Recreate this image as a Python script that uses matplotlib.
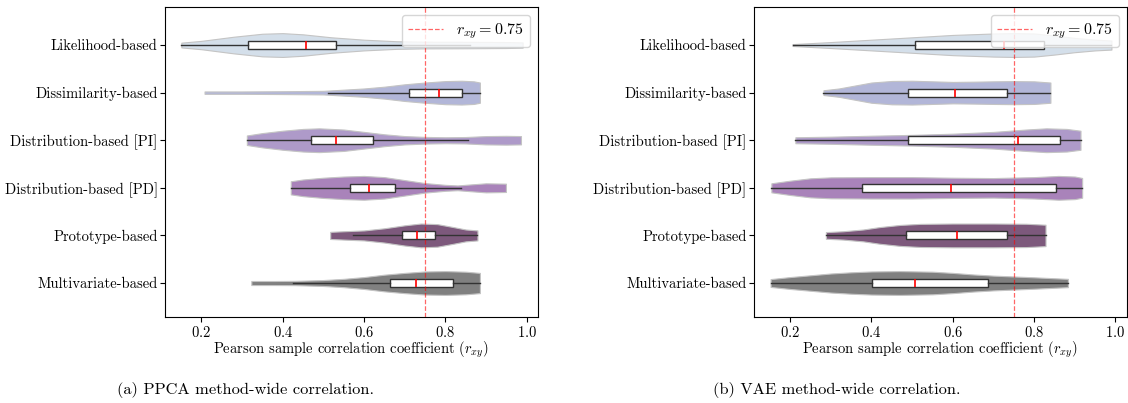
import matplotlib
matplotlib.use("Agg")
import matplotlib.pyplot as plt
import numpy as np

plt.rcParams['font.family'] = ['cmr10', 'DejaVu Serif']
plt.rcParams['mathtext.fontset'] = 'cm'
plt.rcParams['axes.formatter.use_mathtext'] = True

# method groups, top to bottom
methods = ["Likelihood-based", "Dissimilarity-based", "Distribution-based [PI]",
           "Distribution-based [PD]", "Prototype-based", "Multivariate-based"]
colors = ["#d4dfea", "#b2b6d8", "#ae9ac9", "#a983ba", "#7d597c", "#808080"]

# box stats: (whisker low, q1, median, q3, whisker high)
ppca_box = [(0.151, 0.315, 0.458, 0.532, 0.860),
            (0.512, 0.710, 0.784, 0.841, 0.885),
            (0.312, 0.469, 0.530, 0.623, 0.856),
            (0.420, 0.566, 0.612, 0.676, 0.838),
            (0.573, 0.693, 0.731, 0.775, 0.879),
            (0.425, 0.663, 0.727, 0.820, 0.885)]
vae_box = [(0.206, 0.507, 0.725, 0.825, 0.990),
           (0.282, 0.490, 0.606, 0.734, 0.840),
           (0.213, 0.490, 0.760, 0.863, 0.914),
           (0.154, 0.377, 0.596, 0.853, 0.918),
           (0.288, 0.485, 0.611, 0.734, 0.828),
           (0.152, 0.401, 0.507, 0.687, 0.883)]

# violin outlines: correlation values and relative half-widths
ppca_vx = [[0.151, 0.20, 0.28, 0.35, 0.40, 0.45, 0.52, 0.60, 0.68, 0.75, 0.85, 0.95, 0.99],
           [0.208, 0.30, 0.40, 0.50, 0.55, 0.60, 0.65, 0.70, 0.75, 0.80, 0.84, 0.87, 0.885],
           [0.312, 0.35, 0.40, 0.45, 0.49, 0.55, 0.60, 0.65, 0.70, 0.75, 0.80, 0.85, 0.90, 0.95, 0.986],
           [0.420, 0.45, 0.50, 0.55, 0.60, 0.65, 0.70, 0.75, 0.80, 0.83, 0.86, 0.90, 0.949],
           [0.517, 0.55, 0.60, 0.65, 0.70, 0.74, 0.78, 0.82, 0.85, 0.879],
           [0.323, 0.38, 0.43, 0.50, 0.55, 0.60, 0.65, 0.70, 0.75, 0.80, 0.85, 0.885]]
ppca_vw = [[0.20, 0.35, 0.70, 0.95, 1.00, 0.90, 0.65, 0.45, 0.32, 0.28, 0.27, 0.25, 0.22],
           [0.10, 0.10, 0.12, 0.15, 0.25, 0.35, 0.50, 0.70, 0.85, 0.97, 1.00, 0.95, 0.85],
           [0.40, 0.60, 0.80, 0.95, 1.00, 0.90, 0.70, 0.50, 0.35, 0.28, 0.25, 0.27, 0.35, 0.37, 0.35],
           [0.55, 0.70, 0.85, 0.95, 1.00, 0.90, 0.65, 0.40, 0.25, 0.20, 0.28, 0.38, 0.35],
           [0.30, 0.35, 0.42, 0.60, 0.85, 1.00, 0.95, 0.70, 0.50, 0.42],
           [0.17, 0.17, 0.18, 0.25, 0.35, 0.50, 0.70, 0.85, 0.97, 1.00, 0.95, 0.85]]
vae_vx = [[0.206, 0.30, 0.40, 0.50, 0.60, 0.70, 0.75, 0.80, 0.85, 0.90, 0.95, 0.99],
          [0.282, 0.32, 0.36, 0.40, 0.45, 0.50, 0.55, 0.60, 0.65, 0.70, 0.75, 0.80, 0.84],
          [0.213, 0.30, 0.40, 0.50, 0.60, 0.70, 0.78, 0.83, 0.88, 0.914],
          [0.154, 0.20, 0.25, 0.30, 0.40, 0.50, 0.60, 0.70, 0.80, 0.86, 0.90, 0.918],
          [0.288, 0.33, 0.38, 0.42, 0.47, 0.52, 0.60, 0.70, 0.78, 0.828],
          [0.152, 0.20, 0.25, 0.30, 0.35, 0.40, 0.47, 0.55, 0.60, 0.65, 0.70, 0.75, 0.80, 0.85, 0.883]]
vae_vw = [[0.08, 0.25, 0.45, 0.65, 0.85, 0.97, 1.00, 0.97, 0.80, 0.60, 0.45, 0.38],
          [0.20, 0.35, 0.60, 0.85, 0.98, 1.00, 0.95, 0.90, 0.92, 0.95, 0.97, 0.95, 0.85],
          [0.25, 0.30, 0.38, 0.45, 0.55, 0.70, 0.90, 1.00, 0.95, 0.80],
          [0.38, 0.60, 0.80, 0.88, 0.90, 0.90, 0.85, 0.82, 0.90, 1.00, 0.95, 0.83],
          [0.28, 0.35, 0.50, 0.70, 0.88, 0.97, 1.00, 1.00, 0.98, 0.90],
          [0.33, 0.50, 0.65, 0.80, 0.90, 0.97, 1.00, 0.95, 0.85, 0.72, 0.62, 0.55, 0.48, 0.40, 0.35]]

threshold = 0.75


def draw_panel(ax, vx, vw, box):
    for i in range(len(methods)):
        x = np.array(vx[i])
        hw = np.array(vw[i]) * 0.25
        ax.fill_between(x, i - hw, i + hw, color=colors[i], edgecolor="#c4c4c4",
                        linewidth=0.8, zorder=1)
    stats = [dict(whislo=b[0], q1=b[1], med=b[2], q3=b[3], whishi=b[4]) for b in box]
    ax.bxp(stats, positions=range(len(methods)), widths=0.17, orientation="horizontal",
           showfliers=False, showcaps=False, patch_artist=True,
           boxprops=dict(facecolor="white", edgecolor="#333333", linewidth=1.0),
           whiskerprops=dict(color="#333333", linewidth=1.0),
           medianprops=dict(color="red", linewidth=1.2), zorder=2)
    ax.axvline(threshold, color="red", linestyle="--", linewidth=0.9, alpha=0.6,
               label=r"$r_{xy} = 0.75$", zorder=3)
    ax.set_yticks(range(len(methods)))
    ax.set_yticklabels(methods)
    ax.set_ylim(5.72, -0.80)
    ax.set_xlim(0.11, 1.028)
    ax.set_xticks([0.2, 0.4, 0.6, 0.8, 1.0])
    ax.tick_params(labelsize=10.5)
    ax.tick_params(axis="y", pad=1.5)
    ax.tick_params(axis="x", pad=2)
    ax.set_xlabel(r"Pearson sample correlation coefficient ($r_{xy}$)", fontsize=10.5, labelpad=0)
    ax.legend(loc="upper right", fontsize=11.5, handlelength=2.2, borderaxespad=0.5)


fig = plt.figure(figsize=(11.28, 4.03), dpi=100)
ax1 = fig.add_axes([0.146, 0.2127, 0.331, 0.770])
ax2 = fig.add_axes([0.668, 0.2127, 0.331, 0.770])
draw_panel(ax1, ppca_vx, ppca_vw, ppca_box)
draw_panel(ax2, vae_vx, vae_vw, vae_box)

fig.text(117 / 1128, 1 - 390 / 403, "(a) PPCA method-wide correlation.", ha="left", va="center", fontsize=11.8)
fig.text(713 / 1128, 1 - 390 / 403, "(b) VAE method-wide correlation.", ha="left", va="center", fontsize=11.8)

fig.savefig("out.png", dpi=100)
